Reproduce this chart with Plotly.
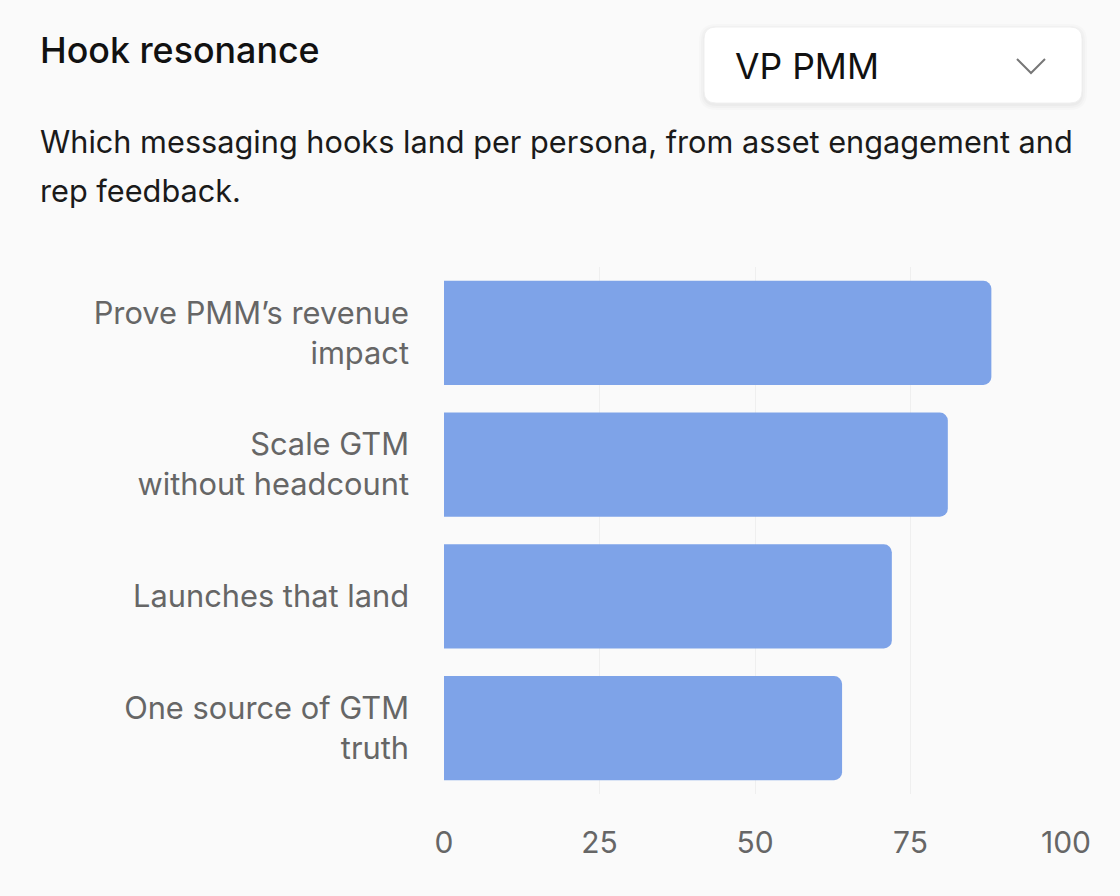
import plotly.graph_objects as go

# ---- data ----
hooks = [
    "Prove PMM’s revenue<br>impact",
    "Scale GTM<br>without headcount",
    "Launches that land",
    "One source of GTM<br>truth",
]
resonance = [88, 81, 72, 64]
x_ticks = [0, 25, 50, 75, 100]
persona = "VP PMM"
title_text = "Hook resonance"
subtitle_lines = [
    "Which messaging hooks land per persona, from asset engagement and",
    "rep feedback.",
]

W, H = 1120, 896
ML, MR, MT, MB = 444, 54, 267, 102
PW, PH = W - ML - MR, H - MT - MB

def px(x):
    return (x - ML) / PW

def py(y):
    return (H - MB - y) / PH

FONT = "Inter, 'Noto Sans', sans-serif"
BG = "#fafafa"

fig = go.Figure()
fig.add_trace(go.Bar(
    x=resonance,
    y=hooks,
    orientation="h",
    marker=dict(color="#7ea3e8", line=dict(width=0)),
    hoverinfo="skip",
))

fig.update_layout(
    width=W, height=H,
    paper_bgcolor=BG, plot_bgcolor=BG,
    margin=dict(l=ML, r=MR, t=MT, b=MB, pad=0),
    bargap=0.21,
    barcornerradius=8,
    showlegend=False,
    font=dict(family=FONT, color="#666666", size=30),
    xaxis=dict(
        range=[0, 100], tickvals=x_ticks, showgrid=True,
        gridcolor="#efefef", gridwidth=1, zeroline=False, showline=False,
        ticks="", tickfont=dict(size=30, color="#666666"),
        ticklabelstandoff=28, fixedrange=True,
    ),
    yaxis=dict(
        autorange="reversed", showgrid=False, zeroline=False, showline=False,
        ticks="", tickfont=dict(size=30.8, color="#666666"),
        ticklabelstandoff=34, fixedrange=True,
    ),
)

# Title
fig.add_annotation(
    xref="paper", yref="paper", x=px(38), y=py(50), xanchor="left", yanchor="middle",
    text=title_text, showarrow=False,
    font=dict(family=FONT, size=35.8, color="#111111", weight=500),
)
# Subtitle lines
for i, line in enumerate(subtitle_lines):
    fig.add_annotation(
        xref="paper", yref="paper", x=px(38), y=py(141 + 49 * i),
        xanchor="left", yanchor="middle", text=line, showarrow=False,
        font=dict(family=FONT, size=30.7, color="#1a1a1a"),
    )

# Dropdown box with soft shadow
def rrect(x0, y0, x1, y1, r):
    X0, X1 = px(x0), px(x1)
    Y0, Y1 = py(y0), py(y1)
    rx, ry = r / PW, r / PH
    return (f"M {X0+rx},{Y0} L {X1-rx},{Y0} Q {X1},{Y0} {X1},{Y0-ry} "
            f"L {X1},{Y1+ry} Q {X1},{Y1} {X1-rx},{Y1} L {X0+rx},{Y1} "
            f"Q {X0},{Y1} {X0},{Y1+ry} L {X0},{Y0-ry} Q {X0},{Y0} {X0+rx},{Y0} Z")

for k, op in [(5, 0.015), (3, 0.02), (1, 0.025)]:
    fig.add_shape(type="path", xref="paper", yref="paper",
                  path=rrect(704 - k, 27 - k + 2, 1082 + k, 103 + k + 2, 12 + k),
                  fillcolor=f"rgba(0,0,0,{op})", line=dict(width=0), layer="above")
fig.add_shape(type="path", xref="paper", yref="paper",
              path=rrect(704, 27, 1082, 103, 12),
              fillcolor="#ffffff", line=dict(color="#f0f0f0", width=1), layer="above")
fig.add_annotation(
    xref="paper", yref="paper", x=px(733), y=py(66), xanchor="left", yanchor="middle",
    text=persona, showarrow=False,
    font=dict(family=FONT, size=35.5, color="#111111"),
)
fig.add_shape(type="path", xref="paper", yref="paper",
              path=f"M {px(1017)},{py(59)} L {px(1031)},{py(73)} L {px(1045)},{py(59)}",
              line=dict(color="#777777", width=2), layer="above")

fig.write_html("out.html")
